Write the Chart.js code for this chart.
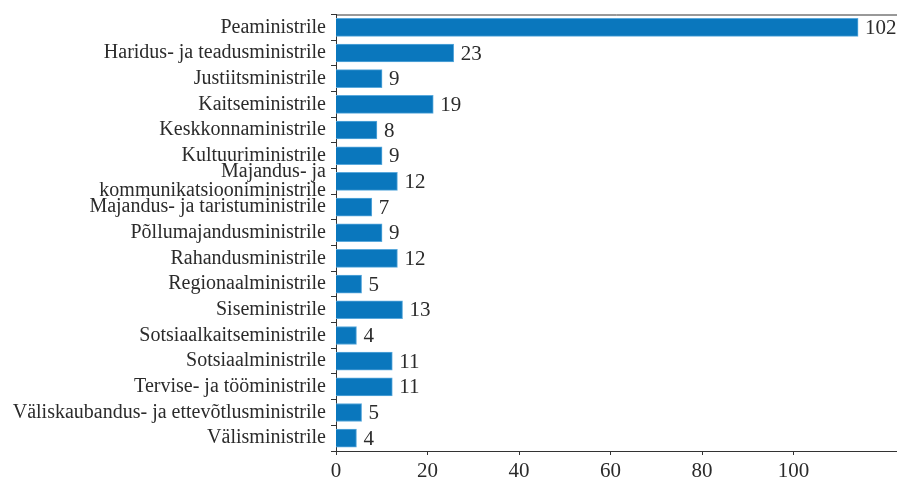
<!DOCTYPE html>
<html>
<head>
<meta charset="utf-8">
<script src="https://cdn.jsdelivr.net/npm/chart.js@4"></script>
<style>
  html, body { margin: 0; padding: 0; background: #fff; }
  #wrap { width: 897px; height: 480px; }
</style>
</head>
<body>
<div id="wrap"><canvas id="chart"></canvas></div>
<script>
const categories = [
  "Peaministrile",
  "Haridus- ja teadusministrile",
  "Justiitsministrile",
  "Kaitseministrile",
  "Keskkonnaministrile",
  "Kultuuriministrile",
  ["Majandus- ja", "kommunikatsiooniministrile"],
  "Majandus- ja taristuministrile",
  "Põllumajandusministrile",
  "Rahandusministrile",
  "Regionaalministrile",
  "Siseministrile",
  "Sotsiaalkaitseministrile",
  "Sotsiaalministrile",
  "Tervise- ja tööministrile",
  "Väliskaubandus- ja ettevõtlusministrile",
  "Välisministrile",
];
const values = [102, 23, 9, 19, 8, 9, 12, 7, 9, 12, 5, 13, 4, 11, 11, 5, 4];
const axisTicks = [0, 20, 40, 60, 80, 100];

const textColor = "#2b2b2b";
const serif = "'Liberation Serif', 'DejaVu Serif', serif";

// bar value labels and the top frame line
const extras = {
  id: "extras",
  afterDatasetsDraw(chart) {
    const { ctx, chartArea } = chart;
    ctx.save();
    ctx.strokeStyle = "#333";
    ctx.lineWidth = 1;
    ctx.beginPath();
    ctx.moveTo(chartArea.left, chartArea.top + 0.5);
    ctx.lineTo(chartArea.right, chartArea.top + 0.5);
    ctx.stroke();

    const meta = chart.getDatasetMeta(0);
    ctx.fillStyle = textColor;
    ctx.font = "21px " + serif;
    ctx.textBaseline = "middle";
    ctx.textAlign = "left";
    meta.data.forEach((bar, i) => {
      ctx.fillText(String(values[i]), bar.x + 7, bar.y + 1);
    });
    ctx.restore();
  },
};

new Chart(document.getElementById("chart"), {
  type: "bar",
  data: {
    labels: categories,
    datasets: [
      {
        data: values,
        backgroundColor: "#0a77bd",
        borderColor: "#5aa9dc",
        borderWidth: 1,
        barThickness: 18,
        xAxisID: "x",
      },
    ],
  },
  options: {
    indexAxis: "y",
    responsive: true,
    maintainAspectRatio: false,
    animation: false,
    layout: { padding: { top: 12, right: 0, left: 0, bottom: 0 } },
    plugins: { legend: { display: false }, tooltip: { enabled: false } },
    scales: {
      x: {
        type: "linear",
        display: false,
        min: 0,
        max: 109.6,
      },
      xAxis: {
        type: "linear",
        position: "bottom",
        min: 0,
        max: 122.6,
        afterBuildTicks: (scale) => {
          scale.ticks = axisTicks.map((v) => ({ value: v }));
        },
        afterFit: (scale) => {
          scale.height = 29;
        },
        border: { display: true, color: "#333", width: 1 },
        grid: { drawOnChartArea: false, tickLength: 4, color: "#333" },
        ticks: {
          color: textColor,
          font: { family: serif, size: 21 },
          padding: 4,
          maxRotation: 0,
        },
      },
      y: {
        type: "category",
        afterFit: (scale) => {
          scale.width = 336;
        },
        border: { display: true, color: "#333", width: 1 },
        grid: { offset: true, drawOnChartArea: false, tickLength: 5, color: "#333" },
        ticks: {
          color: textColor,
          font: { family: serif, size: 20, lineHeight: 0.95 },
          padding: 5,
          autoSkip: false,
        },
      },
    },
  },
  plugins: [extras],
});
</script>
</body>
</html>
